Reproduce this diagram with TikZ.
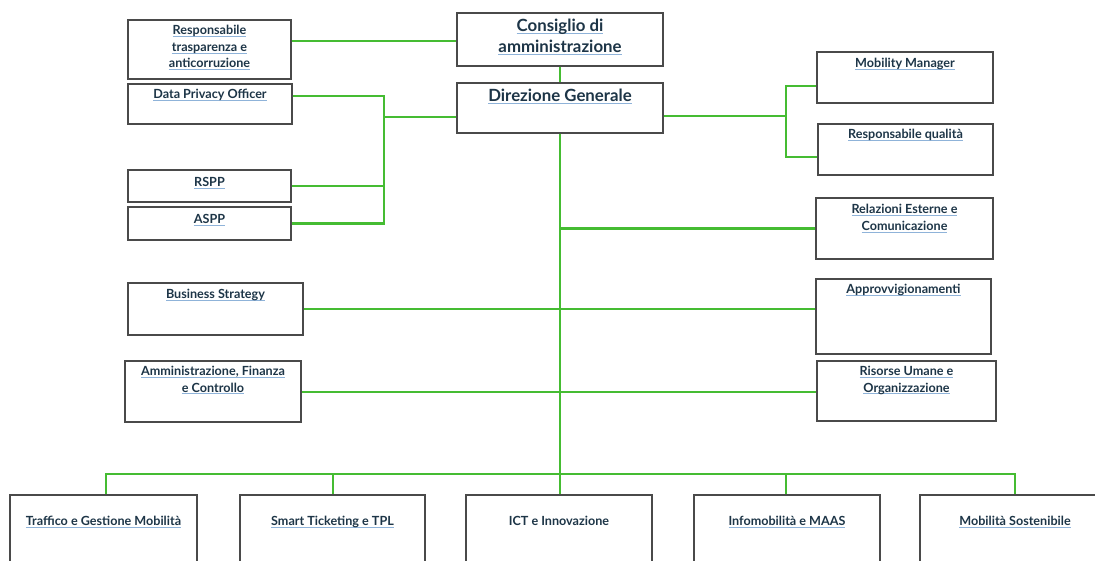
\documentclass[tikz,border=0pt]{standalone}
\usepackage{fontspec}
\setmainfont{Lato}
\definecolor{lnk}{HTML}{8FB3D9}
\definecolor{txt}{HTML}{1D3547}
\definecolor{grn}{HTML}{45BC32}
\definecolor{brd}{HTML}{4A4A4A}
\newcommand\lk[1]{\setbox0\hbox{#1}\rlap{\color{lnk}\rule[-2.2pt]{\wd0}{1pt}}\box0}
\tikzset{
  box/.style={draw=brd, line width=1.5pt, rectangle, inner sep=0pt, fill=white},
  lbl/.style={anchor=north, align=center, text=txt, font=\bfseries\fontsize{12.6}{16.5}\selectfont, inner sep=0pt},
  big/.style={lbl, font=\bfseries\fontsize{16.8}{20.5}\selectfont},
  wire/.style={draw=grn, line width=2.6pt},
}
\begin{document}
\begin{tikzpicture}[x=1pt,y=-1pt]
\useasboundingbox (0,0) rectangle (1095,561);
\clip (0,0) rectangle (1095,561);
\fill[white] (0,0) rectangle (1095,561);
% boxes
\node[box, minimum width=163pt, minimum height=59pt] (rtc) at (209.5,49.5) {};
\node[box, minimum width=206pt, minimum height=53pt] (cda) at (560,39.5) {};
\node[box, minimum width=206pt, minimum height=50pt] (dg) at (560,108) {};
\node[box, minimum width=164pt, minimum height=40pt] (dpo) at (210,104) {};
\node[box, minimum width=163pt, minimum height=32pt] (rspp) at (209.5,186) {};
\node[box, minimum width=163pt, minimum height=33pt] (aspp) at (209.5,223.5) {};
\node[box, minimum width=176pt, minimum height=51pt] (mm) at (905,77.5) {};
\node[box, minimum width=175pt, minimum height=51pt] (rq) at (905.5,149.5) {};
\node[box, minimum width=177pt, minimum height=61pt] (rec) at (904.5,228.5) {};
\node[box, minimum width=175pt, minimum height=52pt] (bs) at (215.5,309) {};
\node[box, minimum width=175pt, minimum height=75pt] (app) at (903.5,316.5) {};
\node[box, minimum width=176pt, minimum height=61pt] (afc) at (213,391.5) {};
\node[box, minimum width=179pt, minimum height=60pt] (ru) at (906.5,391) {};
\node[box, minimum width=187pt, minimum height=80pt] (tgm) at (103.5,535) {};
\node[box, minimum width=185pt, minimum height=80pt] (st) at (332.5,535) {};
\node[box, minimum width=186pt, minimum height=80pt] (ict) at (559,535) {};
\node[box, minimum width=186pt, minimum height=80pt] (inf) at (787,535) {};
\node[box, minimum width=190pt, minimum height=80pt] (ms) at (1015,535) {};
% labels
\node[lbl] (trtc) at ([yshift=-6pt]rtc.north) {\lk{Responsabile}\\\lk{trasparenza e}\\\lk{anticorruzione}};
\node[big] (tcda) at ([yshift=-7pt]cda.north) {\lk{Consiglio di}\\\lk{amministrazione}};
\node[big] (tdg) at ([yshift=-7pt]dg.north) {\lk{Direzione Generale}};
\node[lbl] (tdpo) at ([yshift=-6pt]dpo.north) {\lk{Data Privacy Officer}};
\node[lbl] (trspp) at ([yshift=-8pt]rspp.north) {\lk{RSPP}};
\node[lbl] (taspp) at ([yshift=-8pt]aspp.north) {\lk{ASPP}};
\node[lbl] (tmm) at ([yshift=-7pt]mm.north) {\lk{Mobility Manager}};
\node[lbl] (trq) at ([yshift=-6pt]rq.north) {\lk{Responsabile qualità}};
\node[lbl] (trec) at ([yshift=-7pt]rec.north) {\lk{Relazioni Esterne e}\\\lk{Comunicazione}};
\node[lbl] (tbs) at ([yshift=-7pt]bs.north) {\lk{Business Strategy}};
\node[lbl] (tapp) at ([yshift=-6pt]app.north) {\lk{Approvvigionamenti}};
\node[lbl] (tafc) at ([yshift=-6pt]afc.north) {\lk{Amministrazione, Finanza}\\\lk{e Controllo}};
\node[lbl] (tru) at ([yshift=-6pt]ru.north) {\lk{Risorse Umane e}\\\lk{Organizzazione}};
\node[lbl] (ttgm) at ([yshift=-22pt]tgm.north) {\lk{Traffico e Gestione Mobilità}};
\node[lbl] (tst) at ([yshift=-22pt]st.north) {\lk{Smart Ticketing e TPL}};
\node[lbl] (tict) at ([yshift=-22pt]ict.north) {ICT e Innovazione};
\node[lbl] (tinf) at ([yshift=-22pt]inf.north) {\lk{Infomobilità e MAAS}};
\node[lbl] (tms) at ([yshift=-22pt]ms.north) {\lk{Mobilità Sostenibile}};
% connectors
\coordinate (lj) at (384,117);
\coordinate (rj) at (786,116);
\coordinate (bus) at (560,474);
\draw[wire] (rtc.east |- 0,41) -- (cda.west |- 0,41);
\draw[wire] (cda.south) -- (dg.north);
\draw[wire] (dg.west |- lj) -- (lj);
\draw[wire] (dpo.east |- 0,96) -| (lj |- aspp.east) -- (aspp.east);
\draw[wire] (rspp.east) -- (lj |- rspp.east);
\draw[wire] (dg.east |- rj) -- (rj);
\draw[wire] (mm.west |- 0,86) -| (rj |- 0,157) -- (rq.west |- 0,157);
\draw[wire] (dg.south) -- (bus);
\draw[wire] (bus |- rec.west) -- (rec.west);
\draw[wire] (bs.east) -- (app.west |- bs.east);
\draw[wire] (afc.east |- 0,392) -- (ru.west |- 0,392);
\draw[wire] (tgm.north -| 106,0) |- (bus) -| (ms.north);
\draw[wire] (st.north -| 333,0) -- (bus -| 333,0);
\draw[wire] (bus) -- (ict.north -| bus);
\draw[wire] (inf.north -| 786,0) -- (bus -| 786,0);
\end{tikzpicture}
\end{document}
